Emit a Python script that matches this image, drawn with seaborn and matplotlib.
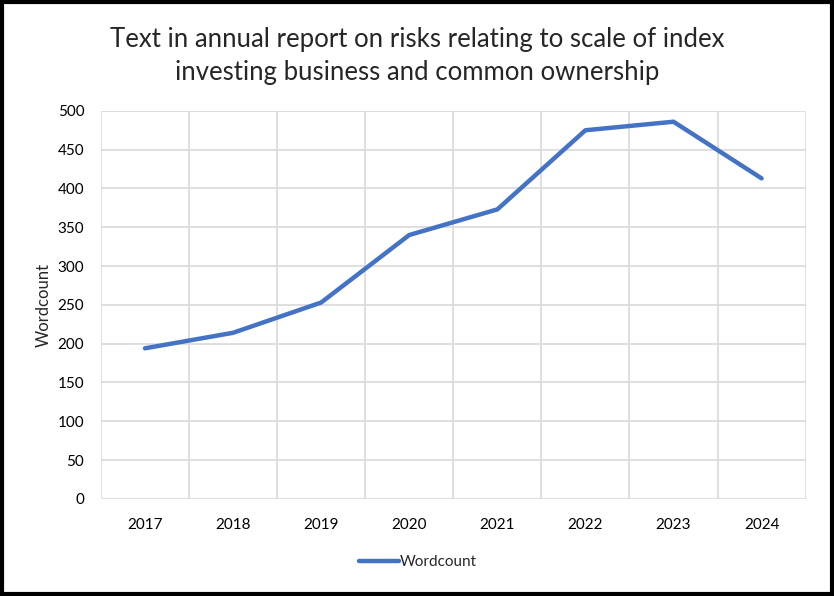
import pandas as pd
import numpy as np
import seaborn as sns
import matplotlib.pyplot as plt
from matplotlib.patches import Rectangle

years = ["2017", "2018", "2019", "2020", "2021", "2022", "2023", "2024"]
wordcount = [194, 214, 253, 340, 373, 475, 486, 413]
yticks = [0, 50, 100, 150, 200, 250, 300, 350, 400, 450, 500]

df = pd.DataFrame({"Year": years, "Wordcount": wordcount})

sns.set_style("white")
plt.rcParams["font.family"] = ["Lato", "DejaVu Sans"]

fig = plt.figure(figsize=(8.34, 5.96), dpi=100)
ax = fig.add_axes([0.121, 0.163, 0.845, 0.651])

sns.lineplot(data=df, x="Year", y="Wordcount", color="#4472C4", linewidth=3.2,
             label="Wordcount", ax=ax, solid_capstyle="round")

ax.set_xlim(-0.5, len(years) - 0.5)
ax.set_ylim(0, 500)
ax.set_yticks(yticks)
ax.set_xticks(range(len(years)))
ax.set_xticks(np.arange(-0.5, len(years), 1), minor=True)
ax.grid(True, which="minor", axis="x", color="#d9d9d9", linewidth=1.2)
ax.grid(True, which="major", axis="y", color="#d9d9d9", linewidth=1.2)
ax.set_axisbelow(True)
for s in ax.spines.values():
    s.set_visible(False)
ax.tick_params(which="both", length=0, labelsize=11, colors="#000000")
ax.tick_params(axis="x", pad=14)
ax.tick_params(axis="y", pad=12)
ax.set_xlabel("")
ax.set_ylabel("Wordcount", fontsize=12, labelpad=4)

fig.suptitle("Text in annual report on risks relating to scale of index\ninvesting business and common ownership",
             fontsize=18.5, y=0.955, linespacing=1.4)

leg = ax.legend(loc="upper center", bbox_to_anchor=(0.45, -0.11), frameon=False,
                fontsize=11, handlelength=2.6, handletextpad=0.1)

fig.patches.append(Rectangle((0.002, 0.003), 0.996, 0.994, transform=fig.transFigure,
                             fill=False, edgecolor="black", linewidth=3))

fig.savefig("out.png", dpi=100)
